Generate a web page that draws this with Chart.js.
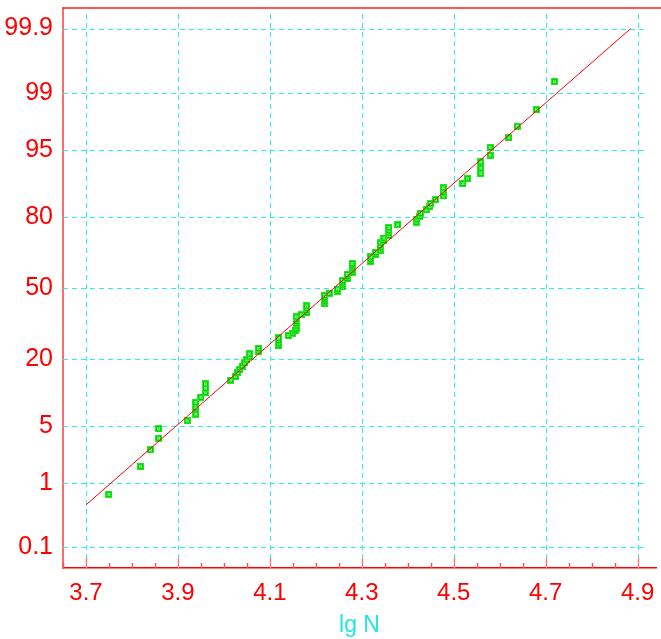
<!DOCTYPE html>
<html><head><meta charset="utf-8">
<script src="https://cdn.jsdelivr.net/npm/chart.js@4/dist/chart.umd.min.js"></script>
<style>html,body{margin:0;padding:0;background:#fff;overflow:hidden;}</style>
</head><body>
<canvas id="c" width="661" height="639"></canvas>
<script>
// ---- data ----
const lgN = [3.750,3.819,3.840,3.858,3.858,3.920,3.939,3.939,3.939,3.950,
 3.960,3.960,3.960,4.015,4.025,4.030,4.035,4.040,4.045,4.050,
 4.055,4.055,4.075,4.075,4.119,4.119,4.119,4.119,4.140,4.150,
 4.155,4.157,4.157,4.157,4.157,4.157,4.157,4.168,4.180,4.180,
 4.180,4.180,4.219,4.219,4.219,4.219,4.219,4.229,4.247,4.247,
 4.258,4.258,4.258,4.258,4.268,4.268,4.268,4.279,4.279,4.279,
 4.279,4.279,4.319,4.319,4.319,4.330,4.330,4.340,4.340,4.340,
 4.340,4.348,4.348,4.359,4.359,4.359,4.359,4.378,4.418,4.420,
 4.426,4.428,4.440,4.448,4.450,4.460,4.477,4.477,4.477,4.520,
 4.530,4.559,4.559,4.559,4.579,4.579,4.620,4.638,4.680,4.719];
const cumPct = [0.70,1.69,2.69,3.69,4.68,5.68,6.67,7.67,8.67,9.66,
 10.66,11.65,12.65,13.65,14.64,15.64,16.63,17.63,18.63,19.62,
 20.62,21.61,22.61,23.61,24.60,25.60,26.59,27.59,28.59,29.58,
 30.58,31.57,32.57,33.57,34.56,35.56,36.55,37.55,38.55,39.54,
 40.54,41.53,42.53,43.53,44.52,45.52,46.51,47.51,48.51,49.50,
 50.50,51.49,52.49,53.49,54.48,55.48,56.47,57.47,58.47,59.46,
 60.46,61.45,62.45,63.45,64.44,65.44,66.43,67.43,68.43,69.42,
 70.42,71.41,72.41,73.41,74.40,75.40,76.39,77.39,78.39,79.38,
 80.38,81.37,82.37,83.37,84.36,85.36,86.35,87.35,88.35,89.34,
 90.34,91.33,92.33,93.33,94.32,95.32,96.31,97.31,98.31,99.30];
const fitLgN = [3.700, 4.885];
const fitPct = [0.49, 99.9];
const yTickPct = [0.1, 1, 5, 20, 50, 80, 95, 99, 99.9];
const xMajor = [3.7, 3.9, 4.1, 4.3, 4.5, 4.7, 4.9];
const xTitle = 'lg N';

// inverse normal CDF (probability paper scale)
function probit(pct){
  const p = pct/100;
  const a=[-3.969683028665376e+01,2.209460984245205e+02,-2.759285104469687e+02,1.383577518672690e+02,-3.066479806614716e+01,2.506628277459239e+00];
  const b=[-5.447609879822406e+01,1.615858368580409e+02,-1.556989798598866e+02,6.680131188771972e+01,-1.328068155288572e+01];
  const c=[-7.784894002430293e-03,-3.223964580411365e-01,-2.400758277161838e+00,-2.549732539343734e+00,4.374664141464968e+00,2.938163982698783e+00];
  const d=[7.784695709041462e-03,3.224671290700398e-01,2.445134137142996e+00,3.754408661907416e+00];
  const pl=0.02425, ph=1-pl; let q,r;
  if(p<pl){q=Math.sqrt(-2*Math.log(p));return (((((c[0]*q+c[1])*q+c[2])*q+c[3])*q+c[4])*q+c[5])/((((d[0]*q+d[1])*q+d[2])*q+d[3])*q+1);}
  if(p>ph){q=Math.sqrt(-2*Math.log(1-p));return -(((((c[0]*q+c[1])*q+c[2])*q+c[3])*q+c[4])*q+c[5])/((((d[0]*q+d[1])*q+d[2])*q+d[3])*q+1);}
  q=p-0.5;r=q*q;
  return (((((a[0]*r+a[1])*r+a[2])*r+a[3])*r+a[4])*r+a[5])*q/(((((b[0]*r+b[1])*r+b[2])*r+b[3])*r+b[4])*r+1);
}

function makeMarker(){
  const cv=document.createElement('canvas'); cv.width=7; cv.height=7;
  const g=cv.getContext('2d');
  g.fillStyle='#20ee20'; g.fillRect(0,0,7,7);
  g.fillStyle='#00c400'; g.fillRect(1,1,5,5);
  g.fillStyle='#30ff30'; g.fillRect(2,2,3,3);
  g.fillStyle='#b8ffb8'; g.fillRect(2,2,1,1); g.fillRect(4,4,1,1); g.fillRect(4,2,1,1); g.fillRect(2,4,1,1);
  return cv;
}

const points = lgN.map((x,i)=>({x:x, y:probit(cumPct[i])}));
const fitLine = fitLgN.map((x,i)=>({x:x, y:probit(fitPct[i])}));

Chart.defaults.font.family = "'Liberation Sans', Arial, sans-serif";

const paperPlugin = {
  id:'paper',
  beforeDatasetsDraw(chart){
    const {ctx, chartArea:a, scales:{x, y}} = chart;
    ctx.save();
    ctx.strokeStyle='#2ef0f0'; ctx.lineWidth=1; ctx.setLineDash([5,4]);
    yTickPct.forEach(p=>{
      const py=Math.round(y.getPixelForValue(probit(p)))+0.5;
      ctx.beginPath(); ctx.moveTo(a.left, py); ctx.lineTo(a.right-9, py); ctx.stroke();
    });
    xMajor.forEach(v=>{
      const px=Math.round(x.getPixelForValue(v))+0.5;
      ctx.beginPath(); ctx.moveTo(px, a.top+6); ctx.lineTo(px, a.bottom); ctx.stroke();
    });
    ctx.restore();
  },
  afterDraw(chart){
    const {ctx, chartArea:a, scales:{x}} = chart;
    ctx.save();
    for(let k=0; ; k++){
      const v = 3.65 + k*0.05;
      if (v > x.max + 1e-9) break;
      const major = xMajor.some(m=>Math.abs(m-v)<1e-6);
      const px=Math.round(x.getPixelForValue(v))+0.5;
      ctx.strokeStyle = major ? '#ff7a7a' : '#ff5050';
      ctx.lineWidth=1.5;
      ctx.beginPath(); ctx.moveTo(px, a.bottom); ctx.lineTo(px, a.bottom-(major?10:5)); ctx.stroke();
    }
    ctx.strokeStyle='#ff2020'; ctx.lineWidth=1.5;
    ctx.beginPath(); ctx.moveTo(a.left, a.top); ctx.lineTo(chart.width, a.top); ctx.stroke();
    ctx.restore();
  }
};

new Chart(document.getElementById('c'), {
  type:'scatter',
  data:{datasets:[
    {label:'fit', data:fitLine, showLine:true, borderColor:'#ff0000', borderWidth:1, pointRadius:0, order:0},
    {label:'data', data:points, pointStyle:makeMarker(), pointRadius:4, order:1}
  ]},
  options:{
    responsive:false, animation:false, devicePixelRatio:1,
    layout:{padding:{top:8, right:0, left:0, bottom:0}},
    plugins:{legend:{display:false}, tooltip:{enabled:false}},
    scales:{
      x:{type:'linear', min:3.65, max:4.94,
        afterFit(s){ s.height = 71; s.paddingLeft = 0; s.paddingRight = 0; s.paddingTop = 0; s.paddingBottom = 0; },
        afterBuildTicks(s){ s.ticks = xMajor.map(v=>({value:v})); },
        ticks:{color:'#ff0000', font:{size:24}, padding:3, autoSkip:false, maxRotation:0,
          callback:(v)=>Number(v).toFixed(1)},
        grid:{display:false},
        border:{color:'#ff0000', width:1.5},
        title:{display:true, text:xTitle, color:'#22e6e6', font:{size:23}, padding:{top:0,bottom:0}}
      },
      y:{type:'linear', min:-3.335, max:3.335,
        afterFit(s){ s.width = 63; s.paddingTop = 0; s.paddingBottom = 0; s.paddingLeft = 0; s.paddingRight = 0; },
        afterBuildTicks(s){ s.ticks = yTickPct.map(p=>({value:probit(p)})); },
        ticks:{color:'#ff0000', font:{size:25}, padding:2, autoSkip:false,
          callback:(v,i)=>String(yTickPct[i])},
        grid:{display:false},
        border:{color:'#ff6a6a', width:2}
      }
    }
  },
  plugins:[paperPlugin]
});
</script>
</body></html>
